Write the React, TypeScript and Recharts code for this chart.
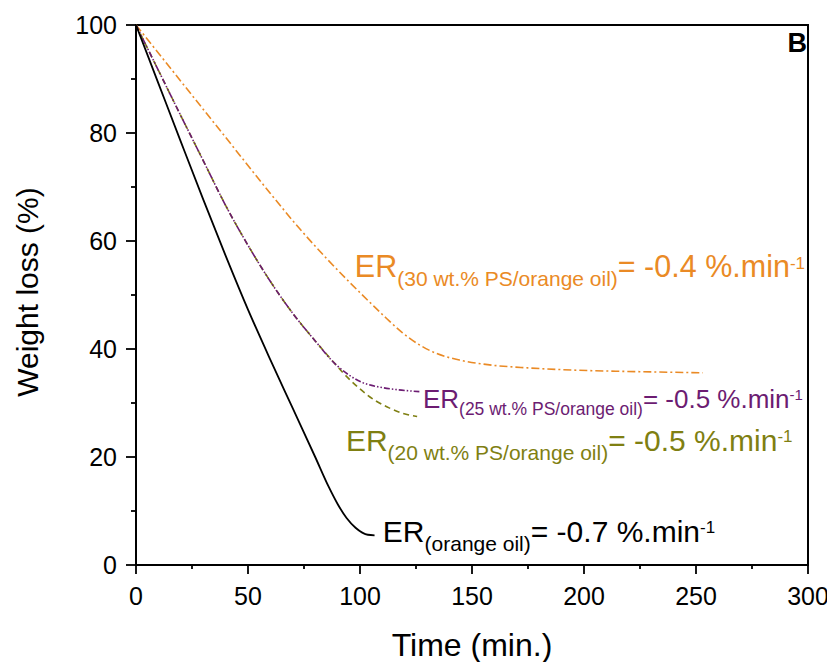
import React from 'react';
import { LineChart, Line, XAxis, YAxis, ReferenceArea, ReferenceDot } from 'recharts';

const FONT = '"Liberation Sans", Arial, sans-serif';

// Time (min.) and weight loss (%) for each sample
const oilTime = [0, 10, 20, 30, 40, 50, 60, 70, 80, 86, 90, 94, 98, 101, 103.5, 106.5];
const oilLoss = [100, 89.2, 78.4, 67.7, 57.3, 47.3, 38, 29, 20, 14.5, 11.3, 8.7, 6.9, 6.0, 5.6, 5.5];

const ps20Time = [0, 10, 20, 30, 40, 50, 60, 70, 80, 89, 92, 96, 100, 107, 113, 119, 125.5];
const ps20Loss = [100, 91.6, 83.2, 74.9, 66.6, 59.2, 52.5, 46.6, 41.5, 37.2, 35.8, 34.1, 32.6, 30.4, 29.1, 28.1, 27.5];

const ps25Time = [0, 10, 20, 30, 40, 50, 60, 70, 80, 89, 95, 101, 108, 116, 126.5];
const ps25Loss = [100, 91.6, 83.2, 74.9, 66.6, 59.2, 52.5, 46.6, 41.5, 37.2, 35.2, 33.8, 33, 32.5, 32.1];

const ps30Time = [0, 20, 40, 60, 73, 85, 95, 105, 112, 119, 126, 134, 145, 157, 175, 195, 225, 253];
const ps30Loss = [100, 89.6, 79.2, 68.8, 62.3, 56.8, 52.5, 48.4, 45.6, 43.0, 40.9, 39.2, 37.9, 37.1, 36.5, 36.1, 35.8, 35.6];

const xTicks = [0, 25, 50, 75, 100, 125, 150, 175, 200, 225, 250, 275, 300];
const yTicks = [0, 10, 20, 30, 40, 50, 60, 70, 80, 90, 100];

// Annotation anchors (data coordinates) and texts
const annOil = { x: 110.2, y: 4.35, sub: '(orange oil)', rest: '= -0.7 %.min' };
const ann20 = { x: 93.7, y: 21.2, sub: '(20 wt.% PS/orange oil)', rest: '= -0.5 %.min' };
const ann25 = { x: 128.1, y: 29.0, sub: '(25 wt.% PS/orange oil)', rest: '= -0.5 %.min' };
const ann30 = { x: 97.7, y: 53.4, sub: '(30 wt.% PS/orange oil)', rest: '= -0.4 %.min' };
const panel = { x: 300, y: 95, text: 'B' };

const zip = (t: number[], v: number[]) => t.map((x, i) => ({ t: x, v: v[i] }));

const C_OIL = '#000000';
const C_20 = '#7f7f12';
const C_25 = '#6c1c72';
const C_30 = '#ea8a25';

const XTick = (props: any) => {
  const { x, y, payload } = props;
  const major = payload.value % 50 === 0;
  return (
    <g>
      <line x1={x} y1={y} x2={x} y2={y + (major ? 9 : 4)} stroke="#000" strokeWidth={1.8} />
      {major && (
        <text x={x} y={y + 40} textAnchor="middle" fontSize={25} fontFamily={FONT} fill="#000">
          {payload.value}
        </text>
      )}
    </g>
  );
};

const YTick = (props: any) => {
  const { x, y, payload } = props;
  const major = payload.value % 20 === 0;
  return (
    <g>
      <line x1={x} y1={y} x2={x - (major ? 10 : 5)} y2={y} stroke="#000" strokeWidth={1.8} />
      {major && (
        <text x={x - 19} y={y + 9} textAnchor="end" fontSize={25} fontFamily={FONT} fill="#000">
          {payload.value}
        </text>
      )}
    </g>
  );
};

const makeLabel = (color: string, sub: string, rest: string, fs: number, subFs: number, supFs: number, subDy: number, supDy: number) =>
  (props: any) => {
    const { cx, cy } = props;
    return (
      <text x={cx} y={cy} fill={color} fontFamily={FONT} fontSize={fs}>
        <tspan>ER</tspan>
        <tspan fontSize={subFs} dy={subDy}>{sub}</tspan>
        <tspan dy={-subDy}>{rest}</tspan>
        <tspan fontSize={supFs} dy={supDy}>-1</tspan>
      </text>
    );
  };

const PanelLabel = (props: any) => (
  <text x={props.cx - 1} y={props.cy} textAnchor="end" fontFamily={FONT} fontWeight="bold" fontSize={27} fill="#000">
    {panel.text}
  </text>
);

const XLabel = (props: any) => {
  const vb = props.viewBox;
  return (
    <text x={vb.x + vb.width / 2} y={vb.y + 91} textAnchor="middle" fontSize={32} fontFamily={FONT} fill="#000">
      Time (min.)
    </text>
  );
};

const YLabel = () => {
  const cx = 30;
  const cy = 284;
  return (
    <text x={cx} y={cy} transform={`rotate(-90, ${cx}, ${cy})`} textAnchor="middle" fontSize={30} fontFamily={FONT} fill="#000">
      Weight loss (%)
    </text>
  );
};

export default function App() {
  return (
    <LineChart width={827} height={654} margin={{ top: 17, right: 27, bottom: 37, left: 58 }}>
      <XAxis
        type="number"
        dataKey="t"
        domain={[0, 300]}
        ticks={xTicks}
        interval={0}
        tickSize={0}
        tickMargin={0}
        tick={XTick}
        tickLine={false}
        axisLine={{ stroke: '#000', strokeWidth: 2 }}
        height={60}
        label={XLabel}
        allowDuplicatedCategory={false}
      />
      <YAxis
        type="number"
        dataKey="v"
        domain={[0, 100]}
        ticks={yTicks}
        interval={0}
        tickSize={0}
        tickMargin={0}
        tick={YTick}
        tickLine={false}
        axisLine={{ stroke: '#000', strokeWidth: 2 }}
        width={70}
        label={YLabel}
      />
      <ReferenceArea x1={0} x2={300} y1={0} y2={100} stroke="#000" strokeWidth={2} fill="none" fillOpacity={0} />
      <Line data={zip(ps30Time, ps30Loss)} dataKey="v" type="monotone" stroke={C_30} strokeWidth={1.6} strokeDasharray="8 3 2 3" dot={false} isAnimationActive={false} />
      <Line data={zip(ps20Time, ps20Loss)} dataKey="v" type="monotone" stroke={C_20} strokeWidth={1.6} strokeDasharray="6 4" dot={false} isAnimationActive={false} />
      <Line data={zip(ps25Time, ps25Loss)} dataKey="v" type="monotone" stroke={C_25} strokeWidth={1.6} strokeDasharray="6 2 1.5 2 1.5 2" dot={false} isAnimationActive={false} />
      <Line data={zip(oilTime, oilLoss)} dataKey="v" type="monotone" stroke={C_OIL} strokeWidth={1.8} dot={false} isAnimationActive={false} />
      <ReferenceDot x={ann30.x} y={ann30.y} r={0} shape={makeLabel(C_30, ann30.sub, ann30.rest, 30.5, 21, 17, 9, -8)} />
      <ReferenceDot x={ann25.x} y={ann25.y} r={0} shape={makeLabel(C_25, ann25.sub, ann25.rest, 26, 17.5, 15, 7, -8)} />
      <ReferenceDot x={ann20.x} y={ann20.y} r={0} shape={makeLabel(C_20, ann20.sub, ann20.rest, 30, 21, 17, 9, -9)} />
      <ReferenceDot x={annOil.x} y={annOil.y} r={0} shape={makeLabel(C_OIL, annOil.sub, annOil.rest, 30, 21, 17, 9, -9)} />
      <ReferenceDot x={panel.x} y={panel.y} r={0} shape={PanelLabel} />
    </LineChart>
  );
}
